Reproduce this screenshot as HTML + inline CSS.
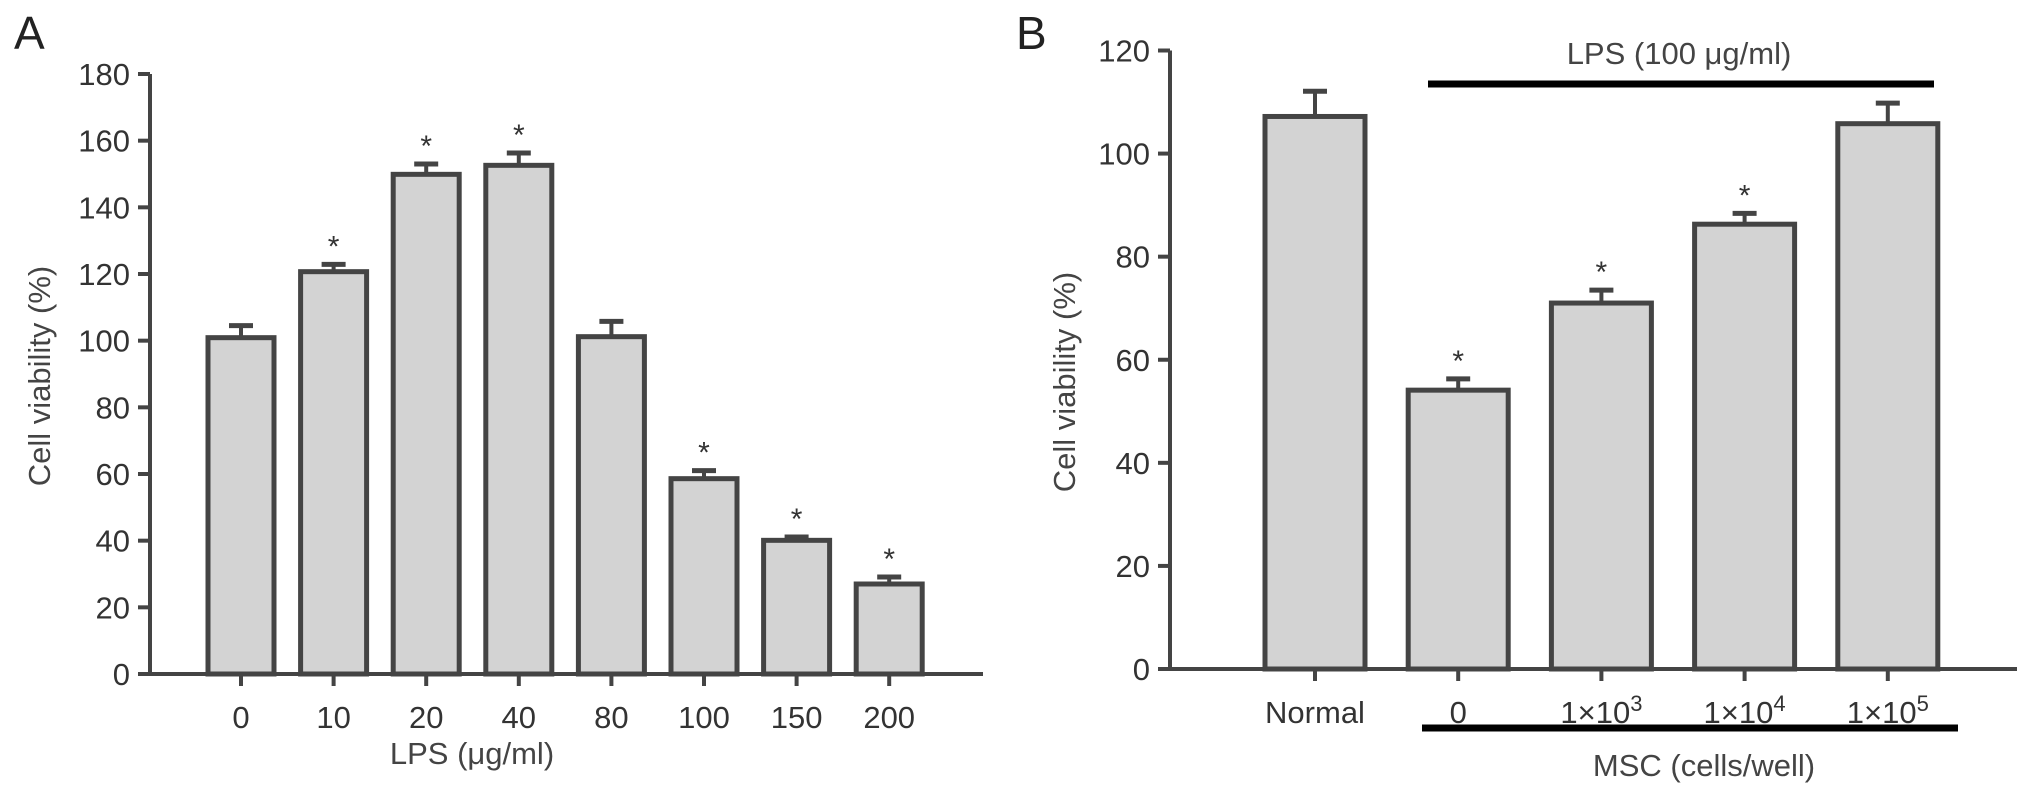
<!DOCTYPE html>
<html><head><meta charset="utf-8"><style>
html,body{margin:0;padding:0;background:#fff;}
svg{display:block;font-family:"Liberation Sans",sans-serif;}
</style></head><body>
<svg id="fig" width="2032" height="795" viewBox="0 0 2032 795"></svg>
<script>
const catsA = ["0","10","20","40","80","100","150","200"];
const valsA = [100.9,120.7,149.9,152.6,101.2,58.6,40.1,27.0];
const errsA = [104.5,122.9,153.0,156.3,105.8,61.0,41.1,29.1];
const starsA = [false,true,true,true,false,true,true,true];
const ticksA = [0,20,40,60,80,100,120,140,160,180];

const catsB = ["Normal","0","1×10^3","1×10^4","1×10^5"];
const valsB = [107.2,54.1,71.0,86.3,105.8];
const errsB = [112.1,56.3,73.5,88.4,109.8];
const starsB = [false,true,true,true,false];
const ticksB = [0,20,40,60,80,100,120];

const NS = "http://www.w3.org/2000/svg";
const svg = document.getElementById("fig");
const C = "#444";
function mk(tag, attrs, parent){
  const e = document.createElementNS(NS, tag);
  for (const k in attrs) e.setAttribute(k, attrs[k]);
  (parent||svg).appendChild(e);
  return e;
}
function panel(o){
  const g = mk("g", {});
  
  
  const y = v => o.y0 - (v - 0) * (o.y0 - o.yTop) / o.yMax;
  const x = i => o.x0 + i * o.step;
  const ya = mk("line",{x1:o.ax,y1:y(o.yMax),x2:o.ax,y2:o.y0,stroke:C,"stroke-width":4},g);
  
  
  const xa = mk("line",{x1:o.ax-2,y1:o.y0,x2:o.axEnd,y2:o.y0,stroke:C,"stroke-width":4},g);
  
  
  o.ticks.forEach(t=>{
    mk("line",{x1:o.ax-12,y1:y(t),x2:o.ax,y2:y(t),stroke:C,"stroke-width":4},g);
    const tl = mk("text",{x:o.ax-20,y:y(t)+11,"text-anchor":"end","font-size":31,fill:"#333"},g);
    tl.textContent = t;
    
    
  });
  o.cats.forEach((c,i)=>{
    const cx = x(i);
    const top = y(o.vals[i]);
    const r = mk("rect",{x:cx-o.bw/2,y:top,width:o.bw,height:o.y0-top,fill:"#d3d3d3",stroke:C,"stroke-width":5},g);
    
    
    const ey = y(o.errs[i]);
    mk("line",{x1:cx,y1:top,x2:cx,y2:ey,stroke:C,"stroke-width":4},g);
    const cap = mk("line",{x1:cx-12,y1:ey,x2:cx+12,y2:ey,stroke:C,"stroke-width":5},g);
    
    
    if (o.stars[i]) {
      const s = mk("text",{x:cx,y:ey-8,"text-anchor":"middle","font-size":30,fill:"#333"},g);
      s.textContent = "*";
      
      
    }
    mk("line",{x1:cx,y1:o.y0,x2:cx,y2:o.y0+12,stroke:C,"stroke-width":4},g);
    const xl = mk("text",{x:cx,y:o.y0+54,"text-anchor":"middle","font-size":31,fill:"#333"},g);
    const parts = c.split("^");
    xl.textContent = parts[0];
    if (parts[1]) {
      const sp = mk("tspan",{dy:-12,"font-size":22},xl);
      sp.textContent = parts[1];
    }
    
    
  });
  return g;
}
panel({name:"panel-a",cats:catsA,vals:valsA,errs:errsA,stars:starsA,ticks:ticksA,
  ax:150,axEnd:983,y0:674,yTop:74,yMax:180,x0:241,step:92.6,bw:66});
panel({name:"panel-b",cats:catsB,vals:valsB,errs:errsB,stars:starsB,ticks:ticksB,
  ax:1170,axEnd:2017,y0:669,yTop:50.5,yMax:120,x0:1315,step:143.2,bw:100});

function txt(s, attrs, name){
  const t = mk("text", attrs);
  t.textContent = s;
  
  
  return t;
}
txt("A",{x:14,y:49,"font-size":46,fill:"#222"},"panel-a-label");
txt("B",{x:1016,y:49,"font-size":46,fill:"#222"},"panel-b-label");
txt("Cell viability (%)",{x:0,y:0,"text-anchor":"middle","font-size":31,fill:"#444",transform:"translate(50,376) rotate(-90)"},"y-axis-title-a");
txt("Cell viability (%)",{x:0,y:0,"text-anchor":"middle","font-size":31,fill:"#444",transform:"translate(1075,382) rotate(-90)"},"y-axis-title-b");
txt("LPS (μg/ml)",{x:472,y:764,"text-anchor":"middle","font-size":31,fill:"#444"},"x-axis-title-a");
txt("LPS (100 μg/ml)",{x:1679,y:64,"text-anchor":"middle","font-size":31,fill:"#444"},"lps-group-label");
txt("MSC (cells/well)",{x:1704,y:776,"text-anchor":"middle","font-size":31,fill:"#444"},"x-axis-title-b");
const l1 = mk("line",{x1:1428,y1:84,x2:1934,y2:84,stroke:"#000","stroke-width":7});


const l2 = mk("line",{x1:1422,y1:728,x2:1958,y2:728,stroke:"#000","stroke-width":7});


</script>
</body></html>
